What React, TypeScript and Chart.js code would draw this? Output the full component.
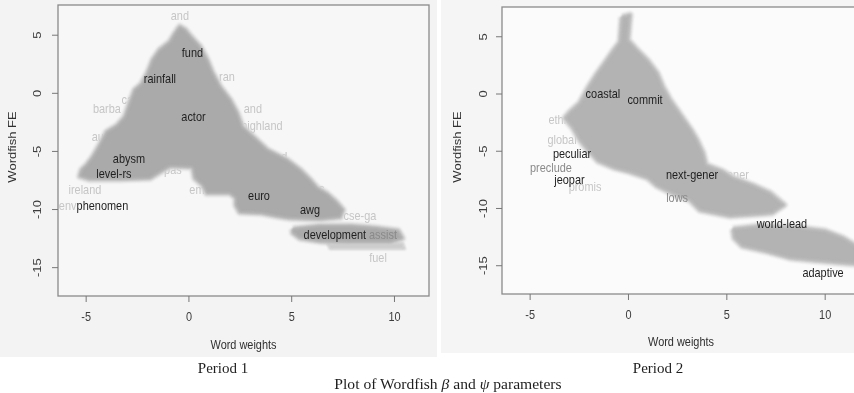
import React, { useEffect, useRef } from "react";
import { Chart, registerables } from "chart.js";

Chart.register(...registerables);

// Axis ticks shared by both panels
const X_TICKS = [-5, 0, 5, 10];
const Y_TICKS = [-15, -10, -5, 0, 5];

// ---------- Period 1 ----------
// Outline of the dense cloud of word labels (beta = word weight, psi = word fixed effect)
const p1BodyBeta = [-0.63, -0.44, -0.19, 0.05, 0.54, 0.88, 1.12, 1.51, 2.0, 2.34, 2.58, 3.07, 3.8, 4.77, 5.4, 5.89, 6.23, 6.72, 7.15, 7.49, 7.35, 6.37, 4.91, 4.28, 3.55, 2.48, 2.29, 2.29, 2.0, 0.88, 0.68, 0.29, 0.19, -0.92, -1.27, -1.9, -3.36, -4.82, -5.3, -5.21, -4.96, -4.67, -4.33, -3.99, -3.5, -3.11, -2.87, -2.63, -2.29, -2.0, -1.75, -1.41, -0.92, -0.63];
const p1BodyPsi = [5.28, 5.71, 5.45, 4.93, 3.97, 2.87, 1.83, 0.54, -0.58, -1.7, -2.9, -3.67, -4.88, -5.76, -6.6, -7.46, -8.15, -8.67, -9.35, -10.04, -10.65, -10.82, -10.73, -10.56, -10.3, -10.22, -9.62, -8.98, -8.58, -8.58, -7.89, -7.29, -6.34, -6.26, -6.6, -7.29, -7.38, -7.38, -7.12, -6.6, -6.17, -5.48, -4.45, -3.33, -2.81, -2.04, -0.83, 0.28, 0.8, 1.75, 2.87, 3.73, 4.41, 5.28];
const p1TailBeta = [5.06, 6.37, 7.83, 9.05, 10.17, 10.37, 9.78, 7.83, 6.37, 5.4, 5.06, 5.06];
const p1TailPsi = [-11.68, -11.42, -11.42, -11.59, -11.85, -12.45, -12.8, -12.8, -12.72, -12.45, -12.0, -11.68];
const p1FringeBeta = [6.72, 10.41, 10.51, 6.86, 6.72];
const p1FringePsi = [-12.88, -12.88, -13.4, -13.4, -12.88];

const p1KeyWords = ["fund", "rainfall", "actor", "abysm", "level-rs", "phenomen", "euro", "awg", "development"];
const p1KeyBeta = [0.17, -1.41, 0.22, -2.92, -3.65, -4.21, 3.41, 5.89, 7.1];
const p1KeyPsi = [3.44, 1.2, -2.07, -5.68, -6.97, -9.7, -8.9, -10.04, -12.27];

const p1MidWords = ["assist"];
const p1MidBeta = [9.44];
const p1MidPsi = [-12.27];

const p1FaintWords = ["and", "ran", "barba", "ca", "and", "highland", "au", "ireland", "env", "pas", "em", "island", "ss", "cse-ga", "fuel"];
const p1FaintBeta = [-0.44, 1.85, -3.99, -3.0, 3.11, 3.55, -4.43, -5.06, -5.9, -0.78, 0.39, 4.09, 6.33, 8.32, 9.2];
const p1FaintPsi = [6.59, 1.4, -1.35, -0.58, -1.35, -2.81, -3.76, -8.32, -9.7, -6.6, -8.32, -5.48, -8.24, -10.56, -14.17];

// ---------- Period 2 ----------
const p2BodyBeta = [-0.33, 0.08, -0.03, 0.43, 0.94, 1.45, 1.75, 2.11, 2.47, 2.82, 3.18, 3.48, 3.79, 3.94, 4.75, 5.31, 6.28, 7.19, 7.91, 7.3, 6.69, 5.16, 3.63, 3.13, 2.21, 1.45, 0.99, 0.08, -0.69, -1.55, -2.06, -2.47, -2.82, -3.23, -2.97, -2.47, -2.06, -1.6, -1.09, -0.74, -0.43, -0.33];
const p2BodyPsi = [6.72, 6.9, 4.72, 3.84, 2.97, 1.83, 0.61, -0.52, -1.4, -2.27, -3.14, -4.02, -5.15, -6.2, -6.72, -7.34, -7.95, -8.65, -9.69, -10.39, -10.48, -10.66, -10.13, -9.26, -8.65, -8.03, -7.34, -6.81, -6.46, -5.85, -4.89, -4.02, -2.97, -2.1, -1.57, -0.79, 0.52, 1.75, 2.97, 3.84, 4.54, 6.72];
const p2TailBeta = [5.31, 6.69, 8.71, 9.99, 10.9, 11.57, 11.57, 10.9, 9.23, 8.21, 6.94, 5.79, 5.38, 5.31];
const p2TailPsi = [-11.79, -11.53, -11.7, -11.97, -12.58, -13.28, -14.85, -14.76, -14.5, -14.32, -13.71, -13.28, -12.58, -11.79];

const p2KeyWords = ["coastal", "commit", "peculiar", "jeopar", "next-gener", "world-lead", "adaptive"];
const p2KeyBeta = [-1.3, 0.84, -2.87, -3.0, 3.23, 7.8, 9.89];
const p2KeyPsi = [0.0, -0.52, -5.24, -7.51, -7.07, -11.35, -15.63];

const p2MidWords = ["preclude", "lows"];
const p2MidBeta = [-3.94, 2.47];
const p2MidPsi = [-6.49, -9.08];

const p2FaintWords = ["promis", "gener", "global", "ethic"];
const p2FaintBeta = [-2.21, 5.41, -3.38, -3.48];
const p2FaintPsi = [-8.2, -7.07, -4.02, -2.27];

const SANS = '"Liberation Sans", Arial, sans-serif';
const SERIF = '"Liberation Serif", "Times New Roman", serif';

const toPoints = (beta: number[], psi: number[]) => beta.map((b, i) => ({ x: b, y: psi[i] }));

// Text drawn slightly condensed, as in the exported R device
function squashText(ctx: CanvasRenderingContext2D, text: string, x: number, y: number, color: string, rotated = false) {
  ctx.save();
  ctx.translate(x, y);
  if (rotated) {
    ctx.rotate(-Math.PI / 2);
    ctx.scale(1, 0.84);
  } else {
    ctx.scale(0.84, 1);
  }
  ctx.fillStyle = color;
  ctx.font = `13px ${SANS}`;
  ctx.textAlign = "center";
  ctx.textBaseline = "middle";
  ctx.fillText(text, 0, 0);
  ctx.restore();
}

type WordSet = { words: string[]; beta: number[]; psi: number[] };

type PanelCfg = {
  left: number;
  width: number;
  height: number;
  padding: { left: number; top: number; right: number; bottom: number };
  xRange: [number, number];
  yRange: [number, number];
  panelBg: string;
  panelBgRect: [number, number, number, number];
  plotBg: string;
  massColor: string;
  haloColor: string;
  fringeColor: string;
  shapes: { beta: number[]; psi: number[]; fringe?: boolean }[];
  faint: WordSet;
  mid: WordSet;
  key: WordSet;
  yLabelOffset: number;
  yTitleOffset: number;
  xLabelOffset: number;
  xTitleOffset: number;
};

function drawWords(chart: Chart, set: WordSet, color: string) {
  const { ctx, chartArea: a, scales } = chart;
  ctx.save();
  ctx.beginPath();
  ctx.rect(a.left, a.top, a.right - a.left, a.bottom - a.top);
  ctx.clip();
  set.words.forEach((w, i) => {
    const px = scales.x.getPixelForValue(set.beta[i]);
    const py = scales.y.getPixelForValue(set.psi[i]);
    squashText(ctx, w, px, py, color);
  });
  ctx.restore();
}

function makeDecor(cfg: PanelCfg) {
  return {
    id: "wordfishDecor",
    beforeDraw(chart: Chart) {
      const { ctx, chartArea: a } = chart;
      ctx.save();
      ctx.fillStyle = cfg.panelBg;
      const [bx, by, bw, bh] = cfg.panelBgRect;
      ctx.fillRect(bx, by, bw, bh);
      ctx.fillStyle = cfg.plotBg;
      ctx.fillRect(a.left, a.top, a.right - a.left, a.bottom - a.top);
      ctx.restore();
    },
    beforeDatasetsDraw(chart: Chart) {
      drawWords(chart, cfg.faint, "#c6c6c6");
      chart.ctx.save();
      chart.ctx.filter = "blur(1px)";
    },
    afterDatasetsDraw(chart: Chart) {
      const { ctx, chartArea: a, scales } = chart;
      ctx.restore();
      drawWords(chart, cfg.mid, "#8a8a8a");
      drawWords(chart, cfg.key, "#1f1f1f");

      // plot frame
      ctx.save();
      ctx.strokeStyle = "#8a8a8a";
      ctx.lineWidth = 1.3;
      ctx.strokeRect(a.left, a.top, a.right - a.left, a.bottom - a.top);

      // x axis ticks + labels
      ctx.strokeStyle = "#777";
      ctx.lineWidth = 1;
      X_TICKS.forEach((t) => {
        const px = scales.x.getPixelForValue(t);
        ctx.beginPath();
        ctx.moveTo(px, a.bottom);
        ctx.lineTo(px, a.bottom + 6);
        ctx.stroke();
        squashText(ctx, String(t), px, a.bottom + cfg.xLabelOffset, "#3c3c3c");
      });
      // y axis ticks + rotated labels
      Y_TICKS.forEach((t) => {
        const py = scales.y.getPixelForValue(t);
        ctx.beginPath();
        ctx.moveTo(a.left, py);
        ctx.lineTo(a.left - 6, py);
        ctx.stroke();
        squashText(ctx, String(t), a.left - cfg.yLabelOffset, py, "#3c3c3c", true);
      });
      squashText(ctx, "Word weights", (a.left + a.right) / 2, a.bottom + cfg.xTitleOffset, "#2f2f2f");
      squashText(ctx, "Wordfish FE", a.left - cfg.yTitleOffset, 147, "#2f2f2f", true);
      ctx.restore();
    },
  };
}

function WordfishPanel({ cfg }: { cfg: PanelCfg }) {
  const ref = useRef<HTMLCanvasElement>(null);
  useEffect(() => {
    if (!ref.current) return;
    const datasets: any[] = [];
    cfg.shapes.forEach((s) => {
      const pts = toPoints(s.beta, s.psi);
      const color = s.fringe ? cfg.fringeColor : cfg.massColor;
      datasets.push({
        data: pts,
        showLine: true,
        fill: "shape",
        backgroundColor: color,
        borderColor: color,
        borderWidth: 1.5,
        pointRadius: 0,
        tension: 0,
        order: 0,
      });
      if (!s.fringe) {
        datasets.push({
          data: pts,
          showLine: true,
          fill: false,
          borderColor: cfg.haloColor,
          borderWidth: 7,
          borderJoinStyle: "round",
          pointRadius: 0,
          tension: 0,
          order: 5,
        });
      }
    });
    const chart = new Chart(ref.current, {
      type: "scatter",
      data: { datasets },
      options: {
        animation: false,
        responsive: false,
        devicePixelRatio: 1,
        events: [],
        layout: { padding: cfg.padding },
        scales: {
          x: { type: "linear", min: cfg.xRange[0], max: cfg.xRange[1], display: false },
          y: { type: "linear", min: cfg.yRange[0], max: cfg.yRange[1], display: false },
        },
        plugins: { legend: { display: false }, tooltip: { enabled: false } },
      },
      plugins: [makeDecor(cfg)],
    });
    return () => chart.destroy();
  }, [cfg]);
  return (
    <canvas
      ref={ref}
      width={cfg.width}
      height={cfg.height}
      style={{ position: "absolute", left: cfg.left, top: 0, width: cfg.width, height: cfg.height }}
    />
  );
}

const period1: PanelCfg = {
  left: 0,
  width: 440,
  height: 393,
  padding: { left: 58, top: 5, right: 11, bottom: 97 },
  xRange: [-6.37, 11.68],
  yRange: [-17.44, 7.6],
  panelBg: "#f3f3f3",
  panelBgRect: [0, 0, 437, 357],
  plotBg: "#f7f7f7",
  massColor: "#aaaaaa",
  haloColor: "#d2d2d2",
  fringeColor: "#cdcdcd",
  shapes: [
    { beta: p1BodyBeta, psi: p1BodyPsi },
    { beta: p1TailBeta, psi: p1TailPsi },
    { beta: p1FringeBeta, psi: p1FringePsi, fringe: true },
  ],
  faint: { words: p1FaintWords, beta: p1FaintBeta, psi: p1FaintPsi },
  mid: { words: p1MidWords, beta: p1MidBeta, psi: p1MidPsi },
  key: { words: p1KeyWords, beta: p1KeyBeta, psi: p1KeyPsi },
  yLabelOffset: 20,
  yTitleOffset: 45,
  xLabelOffset: 21,
  xTitleOffset: 49,
};

const period2: PanelCfg = {
  left: 440,
  width: 440,
  height: 393,
  padding: { left: 62, top: 7, right: 20, bottom: 99 },
  xRange: [-6.43, 11.77],
  yRange: [-17.47, 7.6],
  panelBg: "#f5f5f5",
  panelBgRect: [1, 0, 439, 353],
  plotBg: "#fbfbfb",
  massColor: "#b3b3b3",
  haloColor: "#d7d7d7",
  fringeColor: "#d0d0d0",
  shapes: [
    { beta: p2BodyBeta, psi: p2BodyPsi },
    { beta: p2TailBeta, psi: p2TailPsi },
  ],
  faint: { words: p2FaintWords, beta: p2FaintBeta, psi: p2FaintPsi },
  mid: { words: p2MidWords, beta: p2MidBeta, psi: p2MidPsi },
  key: { words: p2KeyWords, beta: p2KeyBeta, psi: p2KeyPsi },
  yLabelOffset: 18,
  yTitleOffset: 44,
  xLabelOffset: 21,
  xTitleOffset: 48,
};

const captionStyle = (x: number, y: number, size: number): React.CSSProperties => ({
  position: "absolute",
  left: x,
  top: y,
  transform: "translate(-50%, -50%)",
  whiteSpace: "nowrap",
  fontFamily: SERIF,
  fontSize: size,
  color: "#1e1e1e",
  lineHeight: 1,
});

export default function App() {
  return (
    <div
      style={{
        position: "fixed",
        left: 0,
        top: 0,
        width: 854,
        height: 393,
        overflow: "hidden",
        background: "#ffffff",
      }}
    >
      <WordfishPanel cfg={period1} />
      <WordfishPanel cfg={period2} />
      <div style={captionStyle(223, 368, 15)}>Period 1</div>
      <div style={captionStyle(658, 368, 15)}>Period 2</div>
      <div style={captionStyle(448, 384, 15.6)}>
        Plot of Wordfish <i>β</i> and <i>ψ</i> parameters
      </div>
    </div>
  );
}
